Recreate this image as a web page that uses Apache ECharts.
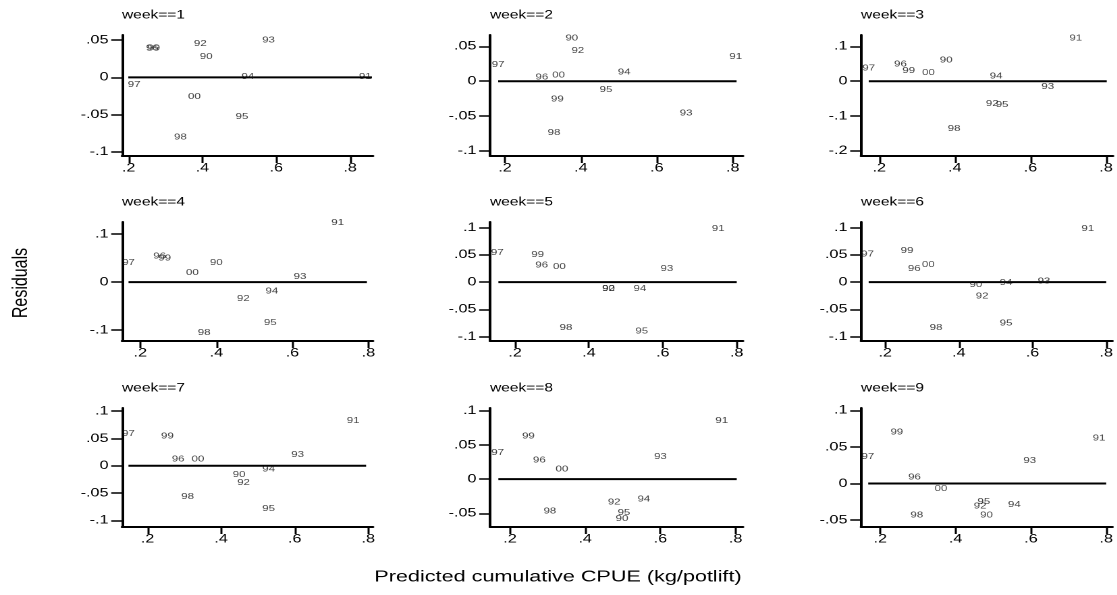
<!DOCTYPE html>
<html>
<head>
<meta charset="utf-8">
<script src="https://cdn.jsdelivr.net/npm/echarts@6/dist/echarts.min.js"></script>
<style>
  html, body { margin: 0; padding: 0; background: #fff; overflow: hidden; }
  /* The figure is laid out narrower and stretched horizontally to the page width */
  #chart { width: 827.4px; height: 595px; transform: scaleX(1.35); transform-origin: 0 0; }
</style>
</head>
<body>
<div id="chart"></div>
<script>
// Survey years used as point labels (same order in every week)
const years = ['90', '91', '92', '93', '94', '95', '96', '97', '98', '99', '00'];

// Predicted cumulative CPUE (x) and residual (y) for each week, by year
const pred_w1  = [0.410, 0.841, 0.394, 0.579, 0.523, 0.507, 0.264, 0.215, 0.340, 0.268, 0.378];
const resid_w1 = [0.028, 0.001, 0.045, 0.050, 0.001, -0.053, 0.039, -0.010, -0.080, 0.039, -0.026];

const pred_w2  = [0.376, 0.808, 0.392, 0.677, 0.514, 0.466, 0.297, 0.182, 0.329, 0.338, 0.341];
const resid_w2 = [0.062, 0.035, 0.044, -0.046, 0.013, -0.012, 0.006, 0.024, -0.074, -0.026, 0.009];

const pred_w3  = [0.377, 0.720, 0.499, 0.646, 0.509, 0.525, 0.256, 0.172, 0.398, 0.278, 0.330];
const resid_w3 = [0.060, 0.123, -0.064, -0.016, 0.014, -0.068, 0.049, 0.037, -0.136, 0.030, 0.025];

const pred_w4  = [0.400, 0.719, 0.471, 0.620, 0.546, 0.542, 0.251, 0.169, 0.368, 0.264, 0.337];
const resid_w4 = [0.041, 0.124, -0.035, 0.011, -0.019, -0.085, 0.054, 0.041, -0.106, 0.050, 0.020];

const pred_w5  = [0.453, 0.750, 0.453, 0.611, 0.538, 0.543, 0.272, 0.152, 0.338, 0.261, 0.320];
const resid_w5 = [-0.012, 0.098, -0.012, 0.025, -0.012, -0.090, 0.031, 0.054, -0.083, 0.050, 0.028];

const pred_w6  = [0.446, 0.750, 0.463, 0.631, 0.528, 0.528, 0.279, 0.152, 0.338, 0.259, 0.317];
const resid_w6 = [-0.005, 0.098, -0.026, 0.002, -0.001, -0.075, 0.025, 0.051, -0.083, 0.058, 0.032];

const pred_w7  = [0.449, 0.759, 0.461, 0.608, 0.529, 0.529, 0.283, 0.148, 0.309, 0.254, 0.337];
const resid_w7 = [-0.016, 0.083, -0.031, 0.020, -0.006, -0.079, 0.012, 0.059, -0.057, 0.054, 0.012];

const pred_w8  = [0.498, 0.763, 0.477, 0.600, 0.556, 0.503, 0.278, 0.167, 0.306, 0.249, 0.338];
const resid_w8 = [-0.058, 0.086, -0.034, 0.033, -0.029, -0.049, 0.028, 0.039, -0.047, 0.063, 0.015];

const pred_w9  = [0.482, 0.781, 0.465, 0.597, 0.556, 0.475, 0.291, 0.167, 0.297, 0.244, 0.361];
const resid_w9 = [-0.043, 0.062, -0.031, 0.031, -0.029, -0.025, 0.009, 0.037, -0.043, 0.070, -0.007];

// Horizontal extent of the fitted (zero) line in each week
const fitFrom = [0.199, 0.182, 0.172, 0.169, 0.155, 0.155, 0.148, 0.169, 0.168];
const fitTo   = [0.859, 0.810, 0.802, 0.796, 0.800, 0.800, 0.794, 0.803, 0.800];

// Tick values
const xTicks = [0.2, 0.4, 0.6, 0.8];
const yTicks = [
  [-0.1, -0.05, 0, 0.05],
  [-0.1, -0.05, 0, 0.05],
  [-0.2, -0.1, 0, 0.1],
  [-0.1, 0, 0.1],
  [-0.1, -0.05, 0, 0.05, 0.1],
  [-0.1, -0.05, 0, 0.05, 0.1],
  [-0.1, -0.05, 0, 0.05, 0.1],
  [-0.05, 0, 0.05, 0.1],
  [-0.05, 0, 0.05, 0.1]
];

const weekTitles = ['week==1', 'week==2', 'week==3', 'week==4', 'week==5',
                    'week==6', 'week==7', 'week==8', 'week==9'];

const predAll  = [pred_w1, pred_w2, pred_w3, pred_w4, pred_w5, pred_w6, pred_w7, pred_w8, pred_w9];
const residAll = [resid_w1, resid_w2, resid_w3, resid_w4, resid_w5, resid_w6, resid_w7, resid_w8, resid_w9];

// Horizontal stretch applied to the whole figure (see CSS)
const SX = 1.35;

// Panel geometry in page pixels, and plot-region ranges
const colLeft = [122, 490, 861];
const colWidth = [251, 253, 252];
const rowTop = [35, 222, 408];
const rowHeight = [121, 119, 119];

const xRange = [
  [0.182, 0.862], [0.1605, 0.827], [0.1516, 0.8185],
  [0.1519, 0.812], [0.1323, 0.817], [0.1342, 0.817],
  [0.1305, 0.8128], [0.1468, 0.8197], [0.1489, 0.8167]
];
const yRange = [
  [-0.1056, 0.0568], [-0.1075, 0.0664], [-0.2147, 0.1326],
  [-0.123, 0.1255], [-0.1079, 0.1101], [-0.1079, 0.1101],
  [-0.1122, 0.1059], [-0.0701, 0.1043], [-0.0595, 0.1033]
];

const FONT = '"Liberation Sans", Arial, Helvetica, sans-serif';

// Stata-style number format: 0.05 -> ".05", -0.1 -> "-.1"
function fmt(v) {
  if (Math.abs(v) < 1e-12) return '0';
  const s = String(+v.toFixed(4));
  return s.replace(/^(-?)0\./, '$1.');
}

const grids = [], xAxes = [], yAxes = [], series = [], titles = [];

for (let i = 0; i < 9; i++) {
  const r = Math.floor(i / 3), c = i % 3;
  grids.push({
    left: colLeft[c] / SX, top: rowTop[r],
    width: colWidth[c] / SX, height: rowHeight[r],
    containLabel: false
  });
  xAxes.push({
    type: 'value', gridIndex: i,
    min: xRange[i][0], max: xRange[i][1],
    axisLine: { show: true, onZero: false, lineStyle: { color: '#000', width: 2 } },
    axisTick: { show: true, length: 7, customValues: xTicks, lineStyle: { color: '#000', width: 1.5 } },
    axisLabel: {
      show: true, customValues: xTicks, formatter: fmt, margin: 6,
      color: '#000', fontSize: 12, fontFamily: FONT
    },
    splitLine: { show: false }
  });
  yAxes.push({
    type: 'value', gridIndex: i,
    min: yRange[i][0], max: yRange[i][1],
    axisLine: { show: true, onZero: false, lineStyle: { color: '#000', width: 2 } },
    axisTick: { show: true, length: 8, customValues: yTicks[i], lineStyle: { color: '#000', width: 1.5 } },
    axisLabel: {
      show: true, customValues: yTicks[i], formatter: fmt, margin: 10,
      color: '#000', fontSize: 12, fontFamily: FONT
    },
    splitLine: { show: false }
  });

  // Fitted line at zero
  series.push({
    type: 'line', xAxisIndex: i, yAxisIndex: i,
    data: [[fitFrom[i], 0], [fitTo[i], 0]],
    symbol: 'none', silent: true, z: 2,
    lineStyle: { color: '#000', width: 2 }
  });

  // Residual points drawn as year labels centred on each point
  const pts = years.map((y, k) => [predAll[i][k], residAll[i][k], y]);
  series.push({
    type: 'scatter', xAxisIndex: i, yAxisIndex: i,
    data: pts, symbolSize: 1, clip: false, z: 3, silent: true,
    itemStyle: { color: 'rgba(0,0,0,0)' },
    label: {
      show: true, position: 'inside',
      formatter: p => p.data[2],
      color: '#111', fontSize: 8.5, fontFamily: FONT
    },
    labelLayout: { hideOverlap: false }
  });

  titles.push({
    text: weekTitles[i], left: colLeft[c] / SX, top: rowTop[r] - 25.5, padding: 0,
    textStyle: { color: '#000', fontSize: 11.5, fontWeight: 'normal', fontFamily: FONT }
  });
}

const chart = echarts.init(document.getElementById('chart'), null,
  { renderer: 'canvas', devicePixelRatio: 2, width: 1117 / SX, height: 595 });
chart.setOption({
  backgroundColor: '#fff',
  animation: false,
  title: titles,
  grid: grids,
  xAxis: xAxes,
  yAxis: yAxes,
  series: series,
  graphic: [
    {
      type: 'text', x: 21 / SX, y: 283, rotation: Math.PI / 2,
      style: {
        text: 'Residuals', fill: '#000', font: '16px ' + FONT,
        textAlign: 'center', textVerticalAlign: 'middle'
      }
    },
    {
      type: 'text', x: 558 / SX, y: 577,
      style: {
        text: 'Predicted cumulative CPUE (kg/potlift)', fill: '#000', font: '16px ' + FONT,
        textAlign: 'center', textVerticalAlign: 'middle'
      }
    }
  ]
});
</script>
</body>
</html>
